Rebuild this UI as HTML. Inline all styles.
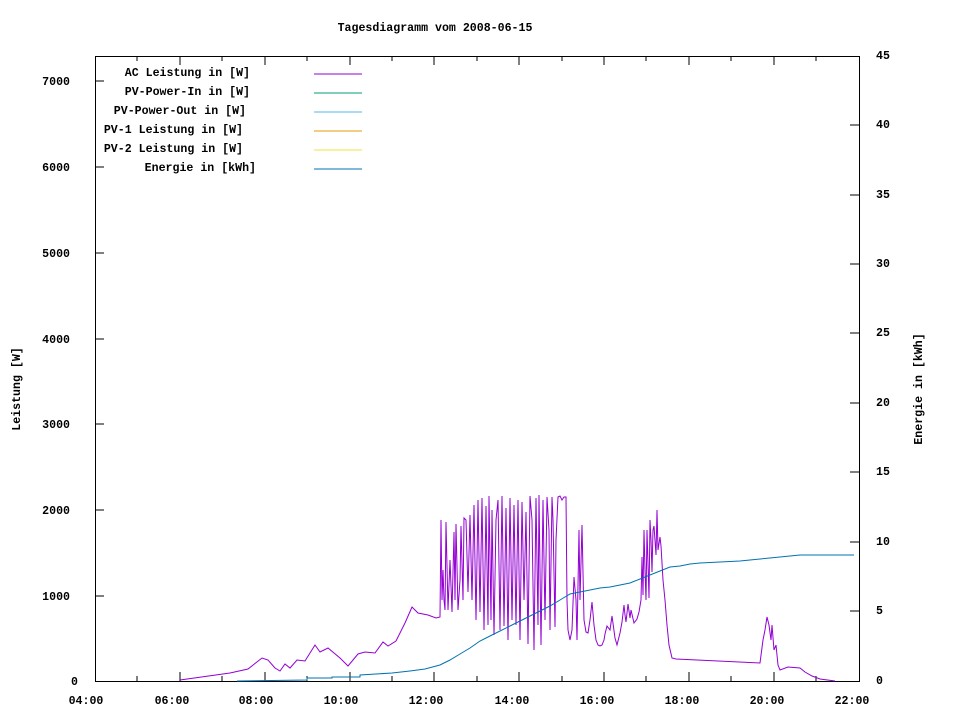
<!DOCTYPE html>
<html><head><meta charset="utf-8"><style>
body{margin:0;background:#fff}
svg{display:block}
text{font-family:"Liberation Mono","DejaVu Sans Mono",monospace;font-size:11.6px;font-weight:bold;fill:#000}
</style></head><body>
<svg width="960" height="720" xmlns="http://www.w3.org/2000/svg">
<rect x="95.5" y="56.5" width="764" height="625" fill="none" stroke="#000"/>
<g stroke="#000" shape-rendering="crispEdges">
<line x1="95" y1="596" x2="104" y2="596"/><line x1="95" y1="510" x2="104" y2="510"/><line x1="95" y1="424" x2="104" y2="424"/><line x1="95" y1="339" x2="104" y2="339"/><line x1="95" y1="253" x2="104" y2="253"/><line x1="95" y1="167" x2="104" y2="167"/><line x1="95" y1="81" x2="104" y2="81"/>
<line x1="850" y1="611" x2="859" y2="611"/><line x1="850" y1="542" x2="859" y2="542"/><line x1="850" y1="472" x2="859" y2="472"/><line x1="850" y1="403" x2="859" y2="403"/><line x1="850" y1="333" x2="859" y2="333"/><line x1="850" y1="264" x2="859" y2="264"/><line x1="850" y1="195" x2="859" y2="195"/><line x1="850" y1="125" x2="859" y2="125"/>
<line x1="180" y1="681" x2="180" y2="672"/><line x1="265" y1="681" x2="265" y2="672"/><line x1="350" y1="681" x2="350" y2="672"/><line x1="434" y1="681" x2="434" y2="672"/><line x1="519" y1="681" x2="519" y2="672"/><line x1="604" y1="681" x2="604" y2="672"/><line x1="689" y1="681" x2="689" y2="672"/><line x1="774" y1="681" x2="774" y2="672"/>
<line x1="137" y1="681" x2="137" y2="676"/><line x1="222" y1="681" x2="222" y2="676"/><line x1="307" y1="681" x2="307" y2="676"/><line x1="392" y1="681" x2="392" y2="676"/><line x1="477" y1="681" x2="477" y2="676"/><line x1="562" y1="681" x2="562" y2="676"/><line x1="646" y1="681" x2="646" y2="676"/><line x1="731" y1="681" x2="731" y2="676"/><line x1="816" y1="681" x2="816" y2="676"/>
<line x1="180" y1="56" x2="180" y2="65"/><line x1="265" y1="56" x2="265" y2="65"/><line x1="350" y1="56" x2="350" y2="65"/><line x1="434" y1="56" x2="434" y2="65"/><line x1="519" y1="56" x2="519" y2="65"/><line x1="604" y1="56" x2="604" y2="65"/><line x1="689" y1="56" x2="689" y2="65"/><line x1="774" y1="56" x2="774" y2="65"/>
<line x1="137" y1="56" x2="137" y2="61"/><line x1="222" y1="56" x2="222" y2="61"/><line x1="307" y1="56" x2="307" y2="61"/><line x1="392" y1="56" x2="392" y2="61"/><line x1="477" y1="56" x2="477" y2="61"/><line x1="562" y1="56" x2="562" y2="61"/><line x1="646" y1="56" x2="646" y2="61"/><line x1="731" y1="56" x2="731" y2="61"/><line x1="816" y1="56" x2="816" y2="61"/>
</g>
<g text-anchor="end">
<text x="78" y="685">0</text><text x="70" y="600">1000</text><text x="70" y="514">2000</text><text x="70" y="428">3000</text><text x="70" y="343">4000</text><text x="70" y="257">5000</text><text x="70" y="171">6000</text><text x="70" y="85">7000</text>
</g>
<g>
<text x="876" y="684">0</text><text x="876" y="614">5</text><text x="876" y="545">10</text><text x="876" y="475">15</text><text x="876" y="406">20</text><text x="876" y="336">25</text><text x="876" y="267">30</text><text x="876" y="198">35</text><text x="876" y="128">40</text><text x="876" y="59">45</text>
</g>
<g text-anchor="middle">
<text x="86" y="704">04:00</text><text x="172" y="704">06:00</text><text x="256" y="704">08:00</text><text x="341" y="704">10:00</text><text x="426" y="704">12:00</text><text x="512" y="704">14:00</text><text x="597" y="704">16:00</text><text x="682" y="704">18:00</text><text x="767" y="704">20:00</text><text x="852" y="704">22:00</text>
<text x="435" y="31">Tagesdiagramm vom 2008-06-15</text>
<text transform="translate(20,389) rotate(-90)">Leistung [W]</text>
<text transform="translate(922,389) rotate(-90)">Energie in [kWh]</text>
</g>
<g text-anchor="end">
<text x="250" y="76">AC Leistung in [W]</text>
<text x="250" y="95">PV-Power-In in [W]</text>
<text x="246" y="114">PV-Power-Out in [W]</text>
<text x="243" y="133">PV-1 Leistung in [W]</text>
<text x="243" y="152">PV-2 Leistung in [W]</text>
<text x="256" y="171">Energie in [kWh]</text>
</g>
<line x1="314" y1="74" x2="362" y2="74" stroke="#9400d3"/>
<line x1="314" y1="93" x2="362" y2="93" stroke="#009e73"/>
<line x1="314" y1="112" x2="362" y2="112" stroke="#56b4e9"/>
<line x1="314" y1="131" x2="362" y2="131" stroke="#e69f00"/>
<line x1="314" y1="150" x2="362" y2="150" stroke="#f0e442"/>
<line x1="314" y1="169" x2="362" y2="169" stroke="#0072b2"/>
<polyline fill="none" stroke="#9400d3" stroke-width="1" points="180,680 230,673 248,669 262,658 268,660 275,668 280,671 285,664 290,668 297,660 305,661 315,645 320,652 328,648 340,658 348,666 358,654 365,652 375,653 383,642 388,646 396,641 405,623 412,607 418,613 428,615 436,618 440,617 441,520 442,600 443,570 444,600 445,610 446,522 448,610 450,560 452,612 454,532 455,600 456,524 458,610 460,580 461,526 463,600 464,518 466,520 468,592 470,515 472,600 474,505 476,620 478,500 480,612 482,498 484,630 486,506 488,625 489,496 491,620 492,510 494,635 496,520 498,500 500,630 502,496 504,626 506,508 508,640 510,498 512,620 514,505 516,625 518,500 520,640 522,502 524,600 526,512 528,644 530,496 532,520 534,650 536,498 538,625 539,495 541,645 543,500 545,620 547,497 549,530 550,630 552,497 553,520 555,627 556,540 558,497 560,496 562,500 564,497 566,497 567,600 568,630 570,640 572,630 574,577 576,600 577,640 579,530 580,600 582,525 584,620 586,632 588,633 590,620 592,602 594,625 596,640 598,645 600,646 602,645 604,640 605,634 607,626 610,630 612,616 615,638 617,645 620,633 622,622 624,605 625,615 626,622 628,604 630,618 631,610 634,623 637,619 639,612 641,600 642,557 643,595 644,530 645,570 646,600 647,530 649,598 650,520 651,540 652,572 653,530 654,526 656,555 657,510 658,550 660,537 661,546 663,580 665,600 667,625 669,645 672,658 676,659 760,663 763,640 765,630 767,617 769,625 771,640 772,625 774,650 776,645 778,665 780,670 788,667 800,668 805,672 812,676 820,679 835,681"/>
<polyline fill="none" stroke="#0072b2" stroke-width="1" points="237,681 307,680 307,678 332,678 332,677 360,677 360,675 392,673 410,671 425,669 440,665 450,660 460,654 470,648 480,641 490,636 500,631 510,626 520,621 530,616 540,611 550,606 560,600 570,594 580,592 590,590 600,588 610,587 620,585 630,583 640,579 650,575 660,571 670,567 680,566 690,564 700,563 720,562 740,561 760,559 780,557 800,555 854,555"/>
</svg>
</body></html>
